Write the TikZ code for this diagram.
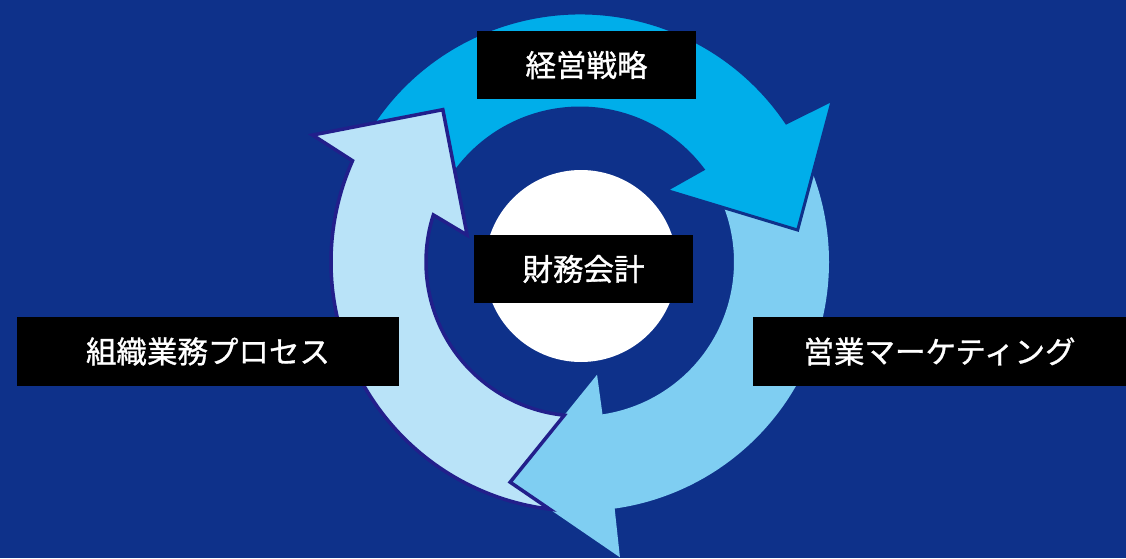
\documentclass[tikz,border=0pt]{standalone}
\usepackage{fontspec}
\newfontfamily\jpfont[FakeBold=1]{Noto Sans CJK JP}
\definecolor{bgblue}{HTML}{0E318A}
\definecolor{arrowA}{HTML}{00AEEA}
\definecolor{arrowB}{HTML}{7FCEF2}
\definecolor{arrowC}{HTML}{B9E3F8}
\definecolor{edgeC}{HTML}{221F8B}
\begin{document}
\begin{tikzpicture}[x=1pt,y=1pt,
  lbl/.style={fill=black,text=white,font=\jpfont\fontsize{30.5}{36}\selectfont,inner sep=0pt,anchor=center},
  cyc/.style={line join=miter}]
\useasboundingbox (0,0) rectangle (1126,558);
\fill[bgblue] (0,0) rectangle (1126,558);
\begin{scope}[shift={(580,296)}]
  % centre disc
  \fill[white] (1,-4) circle[radius=96];
  % key points
  \coordinate (mT) at (-107.6:231);
  % medium arrow (right, going down)
  \path[cyc,fill=arrowB] (28:249) arc[start angle=28,end angle=-82,radius=249]
     -- (-82.3:298) -- (mT) -- (-81.4:114) -- (-81.6:154)
     arc[start angle=-81.6,end angle=28,radius=154] -- cycle;
  % blue arrow (top)
  \path[cyc,fill=arrowA,draw=bgblue,line width=3pt] (152:249) arc[start angle=152,end angle=34,radius=249]
     -- (32.7:300) -- (8.35:220) -- (39.9:112) -- (37:154)
     arc[start angle=37,end angle=152,radius=154] -- cycle;
  % light arrow (left, going up)
  \path[cyc,fill=arrowC,draw=edgeC,line width=3.5pt] (263:249) arc[start angle=263,end angle=156,radius=249]
     -- (154.6:296) -- (132:205) -- (166.6:116) -- (162.2:154)
     arc[start angle=162.2,end angle=264.15,radius=154] -- (mT) -- cycle;
\end{scope}
\node[lbl,minimum width=219,minimum height=68] (strategy) at (586.5,493) {経営戦略};
\node[lbl,minimum width=219,minimum height=68] (finance) at (583.5,289) {財務会計};
\node[lbl,minimum width=382,minimum height=69] (process) at (208,206.5) {組織業務プロセス};
\node[lbl,minimum width=373,minimum height=69] (sales) at (939.5,206.5) {営業マーケティング};
\end{tikzpicture}
\end{document}
